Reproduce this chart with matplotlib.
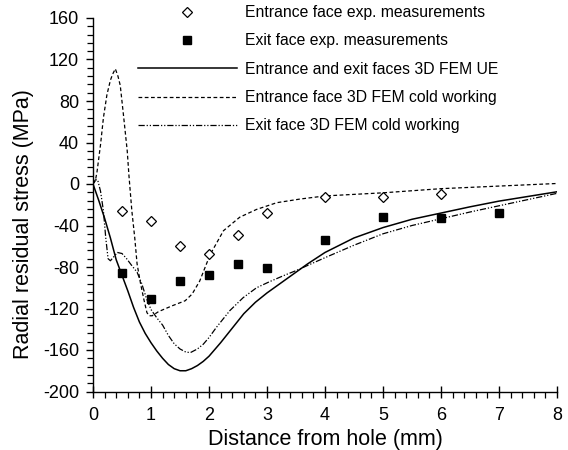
import matplotlib
matplotlib.use("Agg")
import matplotlib.pyplot as plt
from matplotlib.ticker import MultipleLocator

plt.rcParams['font.family'] = ['Liberation Sans', 'DejaVu Sans']
plt.rcParams['axes.unicode_minus'] = False

# Experimental measurements
entr_exp_x = [0.5, 1.0, 1.5, 2.0, 2.5, 3.0, 4.0, 5.0, 6.0]
entr_exp_y = [-26, -36, -60, -67, -49, -27.5, -13, -13, -10]
exit_exp_x = [0.5, 1.0, 1.5, 2.0, 2.5, 3.0, 4.0, 5.0, 6.0, 7.0]
exit_exp_y = [-86, -111, -93.5, -88, -77, -81, -54, -31.5, -33, -28]

# Entrance and exit faces 3D FEM UE
ue_x = [0, 0.1, 0.2, 0.3, 0.4, 0.5, 0.6, 0.7, 0.8, 0.9, 1.0, 1.1, 1.2, 1.3,
        1.4, 1.5, 1.6, 1.7, 1.8, 1.9, 2.0, 2.2, 2.4, 2.6, 2.8, 3.0, 3.2, 3.4,
        3.7, 4.0, 4.5, 5.0, 5.5, 6.0, 6.5, 7.0, 7.5, 8.0]
ue_y = [0, -16, -33, -52, -73, -88, -103, -119, -133, -144, -153, -161, -168,
        -174, -178, -180, -180, -178, -175, -171, -166, -153, -139, -125,
        -114, -105, -97, -89, -77, -66, -52, -42, -34, -28, -22, -16.5, -12, -7.5]

# Entrance face 3D FEM cold working
ent_cw_x = [0, 0.04, 0.07, 0.13, 0.18, 0.24, 0.3, 0.34, 0.385, 0.43, 0.47,
            0.53, 0.59, 0.62, 0.67, 0.72, 0.76, 0.82, 0.88, 0.93, 0.97, 1.02,
            1.13, 1.36, 1.59, 1.71, 1.84, 2.02, 2.25, 2.53, 2.82, 3.17, 3.57,
            4.0, 5.0, 6.0, 7.0, 8.0]
ent_cw_y = [0, 3, 12, 38, 64, 86, 100, 106, 111, 104, 95, 64, 32, 8, -26, -52,
            -77, -96, -112, -124, -127, -127, -123, -117.5, -112.5, -106, -93.5,
            -68, -45, -32, -24.5, -18, -14.5, -11.5, -8.5, -4.5, -2, 0.5]

# Exit face 3D FEM cold working
exit_cw_x = [0, 0.04, 0.08, 0.13, 0.18, 0.22, 0.26, 0.3, 0.36, 0.42, 0.5, 0.58,
             0.66, 0.76, 0.84, 0.92, 1.0, 1.1, 1.2, 1.3, 1.4, 1.5, 1.6, 1.68,
             1.8, 1.9, 2.0, 2.13, 2.36, 2.59, 2.82, 3.05, 3.3, 3.5, 3.7, 4.0,
             4.5, 5.0, 5.5, 6.0, 6.5, 7.0, 7.5, 8.0]
exit_cw_y = [0, 4, 4, -7, -26, -52, -72, -74, -70, -66, -67, -72, -78, -85,
             -96, -110, -121, -129, -136, -146, -154, -159, -162, -162.5, -159,
             -154.5, -148, -138, -122, -109.5, -100, -94, -88, -83.5, -78.5,
             -71, -59, -48, -40, -33.5, -27, -21, -15, -9]

labels = ["Entrance face exp. measurements",
          "Exit face exp. measurements",
          "Entrance and exit faces 3D FEM UE",
          "Entrance face 3D FEM cold working",
          "Exit face 3D FEM cold working"]

fig = plt.figure(figsize=(5.68, 4.5), dpi=100)
ax = fig.add_axes([93/568, 1-391.5/450, 464/568, 373.5/450])

h1, = ax.plot(entr_exp_x, entr_exp_y, linestyle='none', marker='D', markersize=5,
              markerfacecolor='white', markeredgecolor='black', markeredgewidth=0.9,
              label=labels[0], zorder=5)
h2, = ax.plot(exit_exp_x, exit_exp_y, linestyle='none', marker='s', markersize=6,
              markerfacecolor='black', markeredgecolor='black', label=labels[1], zorder=5)
h3, = ax.plot(ue_x, ue_y, color='black', linewidth=1.1, label=labels[2])
h4, = ax.plot(ent_cw_x, ent_cw_y, color='black', linewidth=0.9,
              dashes=(3, 2), label=labels[3])
h5, = ax.plot(exit_cw_x, exit_cw_y, color='black', linewidth=0.9,
              dashes=(5, 1.5, 1, 1.5, 1, 1.5), label=labels[4])

ax.set_xlim(0, 8)
ax.set_ylim(-200, 160)
ax.xaxis.set_major_locator(MultipleLocator(1))
ax.xaxis.set_minor_locator(MultipleLocator(0.2))
ax.yaxis.set_major_locator(MultipleLocator(40))
ax.yaxis.set_minor_locator(MultipleLocator(8))

for s in ['top', 'right']:
    ax.spines[s].set_visible(False)
for s in ['left', 'bottom']:
    ax.spines[s].set_linewidth(1.0)

ax.tick_params(axis='x', which='major', direction='inout', length=9, width=1,
               labelsize=13, pad=7)
ax.tick_params(axis='x', which='minor', direction='out', length=4, width=0.9)
ax.tick_params(axis='y', which='major', direction='out', length=5, width=1,
               labelsize=13, pad=5)
ax.tick_params(axis='y', which='minor', direction='out', length=4, width=0.9)

ax.set_xlabel("Distance from hole (mm)", fontsize=15.5, labelpad=3)
ax.set_ylabel("Radial residual stress (MPa)", fontsize=15.5)
ax.yaxis.set_label_coords(-0.127, 0.448)

leg = ax.legend(handles=[h1, h2, h3, h4, h5], loc='upper left',
                bbox_to_anchor=(138/568, 1-5/450), bbox_transform=fig.transFigure,
                frameon=False, fontsize=11.3, handlelength=6.3, handletextpad=0.5,
                labelspacing=0.85, borderpad=0, borderaxespad=0, numpoints=1)

fig.savefig("out.png", dpi=100)
